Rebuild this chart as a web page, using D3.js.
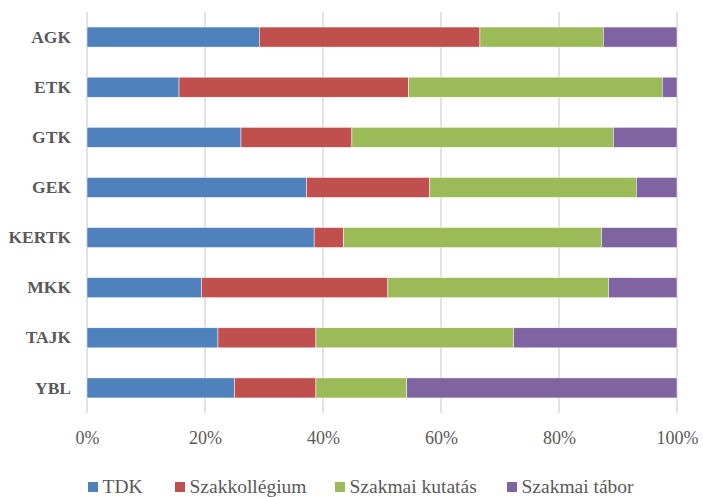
<!DOCTYPE html>
<html>
<head>
<meta charset="utf-8">
<script src="https://d3js.org/d3.v7.min.js"></script>
<style>
  body { margin: 0; background: #fff; }
</style>
</head>
<body>
<script>
// data
var categories = ["AGK", "ETK", "GTK", "GEK", "KERTK", "MKK", "TAJK", "YBL"];
var seriesNames = ["TDK", "Szakkollégium", "Szakmai kutatás", "Szakmai tábor"];
var seriesColors = ["#4F81BD", "#C0504D", "#9BBB59", "#8064A2"];
var tdk = [29.2, 15.6, 26.1, 37.2, 38.5, 19.4, 22.2, 25.0];
var szakkollegium = [37.4, 38.9, 18.8, 20.9, 5.0, 31.6, 16.6, 13.8];
var kutatas = [20.9, 43.0, 44.3, 35.0, 43.7, 37.4, 33.5, 15.4];
var tabor = [12.5, 2.5, 10.8, 6.9, 12.8, 11.6, 27.7, 45.8];
var tickValues = [0, 0.2, 0.4, 0.6, 0.8, 1];

var svgWidth = 703;
var svgHeight = 497;
var margin = { top: 12, right: 26, bottom: 84, left: 87 };
var width = svgWidth - margin.left - margin.right;
var height = svgHeight - margin.top - margin.bottom;
var fontFamily = "Liberation Serif";
var textColor = "#595959";

var svg = d3.select("body")
  .append("svg")
  .attr("width", svgWidth)
  .attr("height", svgHeight);

var chartGroup = svg.append("g")
  .attr("transform", `translate(${margin.left}, ${margin.top})`);

// build rows of shares
var rows = categories.map(function(c, i) {
  var vals = [tdk[i], szakkollegium[i], kutatas[i], tabor[i]];
  var total = d3.sum(vals);
  var row = { cat: c };
  seriesNames.forEach(function(s, j) { row[s] = vals[j] / total; });
  return row;
});

var stacked = d3.stack().keys(seriesNames)(rows);

var xScale = d3.scaleLinear().domain([0, 1]).range([0, width]);
var yScale = d3.scaleBand()
  .domain(categories)
  .range([0, height])
  .paddingInner(0.6)
  .paddingOuter(0.3);

// gridlines
chartGroup.append("g")
  .selectAll("line")
  .data(tickValues)
  .enter()
  .append("line")
  .attr("x1", d => xScale(d))
  .attr("x2", d => xScale(d))
  .attr("y1", 0)
  .attr("y2", height)
  .attr("stroke", "#d9d9d9")
  .attr("stroke-width", 1.5);

// bars
chartGroup.selectAll(".series")
  .data(stacked)
  .enter()
  .append("g")
  .attr("fill", (d, i) => seriesColors[i])
  .selectAll("rect")
  .data(d => d)
  .enter()
  .append("rect")
  .attr("x", d => xScale(d[0]))
  .attr("width", d => xScale(d[1]) - xScale(d[0]))
  .attr("y", d => yScale(d.data.cat))
  .attr("height", yScale.bandwidth())
  .attr("stroke", "#fff")
  .attr("stroke-width", 0.5);

// category labels
var leftAxis = d3.axisLeft(yScale).tickSize(0).tickPadding(16);
chartGroup.append("g")
  .call(leftAxis)
  .call(g => g.select(".domain").remove())
  .selectAll("text")
  .attr("font-family", fontFamily)
  .attr("font-size", "17.5px")
  .attr("font-weight", "bold")
  .attr("fill", textColor);

// x axis labels
var bottomAxis = d3.axisBottom(xScale)
  .tickValues(tickValues)
  .tickFormat(d3.format(".0%"))
  .tickSize(0)
  .tickPadding(18);
chartGroup.append("g")
  .attr("transform", `translate(0, ${height})`)
  .call(bottomAxis)
  .call(g => g.select(".domain").remove())
  .selectAll("text")
  .attr("font-family", fontFamily)
  .attr("font-size", "18px")
  .attr("fill", textColor);

// legend
var legendX = [88, 175, 335, 507];
var legend = svg.append("g")
  .attr("transform", "translate(0, 487)");

var items = legend.selectAll("g")
  .data(seriesNames)
  .enter()
  .append("g")
  .attr("transform", (d, i) => `translate(${legendX[i]}, 0)`);

items.append("rect")
  .attr("x", 0)
  .attr("y", -5)
  .attr("width", 10)
  .attr("height", 10)
  .attr("fill", (d, i) => seriesColors[i]);

items.append("text")
  .attr("x", 14.5)
  .attr("y", 6)
  .attr("font-family", fontFamily)
  .attr("font-size", "19.5px")
  .attr("fill", textColor)
  .text(d => d);
</script>
</body>
</html>
